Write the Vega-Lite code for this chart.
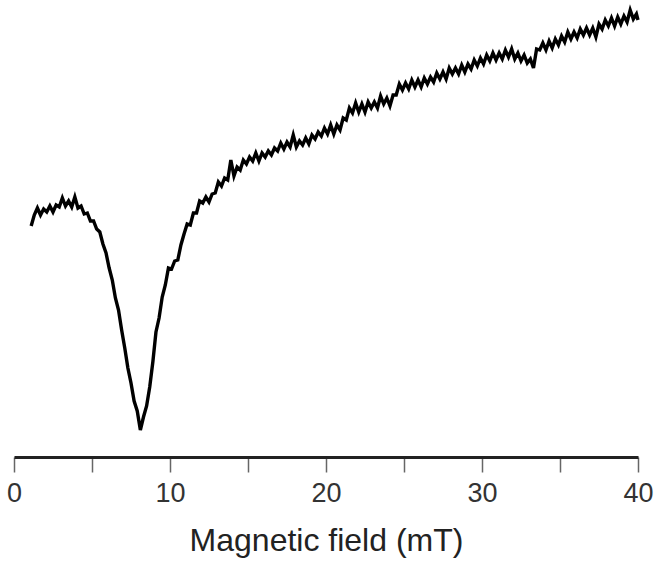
{
  "$schema": "https://vega.github.io/schema/vega-lite/v6.json",
  "width": 624,
  "height": 457,
  "autosize": "none",
  "padding": {"left": 14, "right": 21, "top": 0, "bottom": 111},
  "background": "white",
  "config": {"view": {"stroke": null}},
  "data": {"values": [
    {"field": 1.1, "signal": 231}, {"field": 1.3, "signal": 242}, {"field": 1.5, "signal": 249}, {"field": 1.7, "signal": 242},
    {"field": 1.9, "signal": 248}, {"field": 2.1, "signal": 245}, {"field": 2.3, "signal": 251}, {"field": 2.5, "signal": 245},
    {"field": 2.7, "signal": 252}, {"field": 2.9, "signal": 250}, {"field": 3.1, "signal": 259}, {"field": 3.3, "signal": 251},
    {"field": 3.5, "signal": 256}, {"field": 3.7, "signal": 250}, {"field": 3.9, "signal": 260}, {"field": 4.1, "signal": 249},
    {"field": 4.3, "signal": 251}, {"field": 4.5, "signal": 243}, {"field": 4.7, "signal": 244}, {"field": 4.9, "signal": 236},
    {"field": 5.1, "signal": 236}, {"field": 5.3, "signal": 228}, {"field": 5.5, "signal": 225}, {"field": 5.7, "signal": 213},
    {"field": 5.9, "signal": 204}, {"field": 6.1, "signal": 189}, {"field": 6.3, "signal": 177}, {"field": 6.5, "signal": 159},
    {"field": 6.7, "signal": 147}, {"field": 6.9, "signal": 127}, {"field": 7.1, "signal": 109}, {"field": 7.3, "signal": 89},
    {"field": 7.5, "signal": 74}, {"field": 7.7, "signal": 56}, {"field": 7.9, "signal": 46}, {"field": 8.1, "signal": 27},
    {"field": 8.3, "signal": 40}, {"field": 8.5, "signal": 51}, {"field": 8.7, "signal": 70}, {"field": 8.9, "signal": 95},
    {"field": 9.1, "signal": 125}, {"field": 9.3, "signal": 139}, {"field": 9.5, "signal": 160}, {"field": 9.7, "signal": 172},
    {"field": 9.9, "signal": 189}, {"field": 10.1, "signal": 188}, {"field": 10.3, "signal": 196}, {"field": 10.5, "signal": 197},
    {"field": 10.7, "signal": 212}, {"field": 10.9, "signal": 223}, {"field": 11.1, "signal": 233}, {"field": 11.3, "signal": 232},
    {"field": 11.5, "signal": 244}, {"field": 11.7, "signal": 244}, {"field": 11.9, "signal": 256}, {"field": 12.1, "signal": 254},
    {"field": 12.3, "signal": 260}, {"field": 12.5, "signal": 255}, {"field": 12.7, "signal": 263}, {"field": 12.9, "signal": 264},
    {"field": 13.1, "signal": 275}, {"field": 13.3, "signal": 271}, {"field": 13.5, "signal": 279}, {"field": 13.7, "signal": 277},
    {"field": 13.9, "signal": 297}, {"field": 14.1, "signal": 281}, {"field": 14.3, "signal": 290}, {"field": 14.5, "signal": 287},
    {"field": 14.7, "signal": 297}, {"field": 14.9, "signal": 293}, {"field": 15.1, "signal": 300}, {"field": 15.3, "signal": 296},
    {"field": 15.5, "signal": 304}, {"field": 15.7, "signal": 296}, {"field": 15.9, "signal": 304}, {"field": 16.1, "signal": 300},
    {"field": 16.3, "signal": 306}, {"field": 16.5, "signal": 302}, {"field": 16.7, "signal": 309}, {"field": 16.9, "signal": 306},
    {"field": 17.1, "signal": 314}, {"field": 17.3, "signal": 308}, {"field": 17.5, "signal": 315}, {"field": 17.7, "signal": 310},
    {"field": 17.9, "signal": 322}, {"field": 18.1, "signal": 310}, {"field": 18.3, "signal": 316}, {"field": 18.5, "signal": 312},
    {"field": 18.7, "signal": 319}, {"field": 18.9, "signal": 313}, {"field": 19.1, "signal": 322}, {"field": 19.3, "signal": 318},
    {"field": 19.5, "signal": 325}, {"field": 19.7, "signal": 321}, {"field": 19.9, "signal": 329}, {"field": 20.1, "signal": 323},
    {"field": 20.3, "signal": 332}, {"field": 20.5, "signal": 323}, {"field": 20.7, "signal": 332}, {"field": 20.9, "signal": 327},
    {"field": 21.1, "signal": 339}, {"field": 21.3, "signal": 337}, {"field": 21.5, "signal": 349}, {"field": 21.7, "signal": 344},
    {"field": 21.9, "signal": 354}, {"field": 22.1, "signal": 345}, {"field": 22.3, "signal": 353}, {"field": 22.5, "signal": 345},
    {"field": 22.7, "signal": 355}, {"field": 22.9, "signal": 349}, {"field": 23.1, "signal": 355}, {"field": 23.3, "signal": 349},
    {"field": 23.5, "signal": 361}, {"field": 23.7, "signal": 353}, {"field": 23.9, "signal": 359}, {"field": 24.1, "signal": 351},
    {"field": 24.3, "signal": 362}, {"field": 24.5, "signal": 362}, {"field": 24.7, "signal": 373}, {"field": 24.9, "signal": 367},
    {"field": 25.1, "signal": 374}, {"field": 25.3, "signal": 368}, {"field": 25.5, "signal": 377}, {"field": 25.7, "signal": 370},
    {"field": 25.9, "signal": 377}, {"field": 26.1, "signal": 370}, {"field": 26.3, "signal": 379}, {"field": 26.5, "signal": 373},
    {"field": 26.7, "signal": 380}, {"field": 26.9, "signal": 375}, {"field": 27.1, "signal": 384}, {"field": 27.3, "signal": 378},
    {"field": 27.5, "signal": 385}, {"field": 27.7, "signal": 378}, {"field": 27.9, "signal": 389}, {"field": 28.1, "signal": 383},
    {"field": 28.3, "signal": 389}, {"field": 28.5, "signal": 383}, {"field": 28.7, "signal": 392}, {"field": 28.9, "signal": 385},
    {"field": 29.1, "signal": 393}, {"field": 29.3, "signal": 388}, {"field": 29.5, "signal": 397}, {"field": 29.7, "signal": 391},
    {"field": 29.9, "signal": 399}, {"field": 30.1, "signal": 393}, {"field": 30.3, "signal": 402}, {"field": 30.5, "signal": 396},
    {"field": 30.7, "signal": 404}, {"field": 30.9, "signal": 397}, {"field": 31.1, "signal": 404}, {"field": 31.3, "signal": 398},
    {"field": 31.5, "signal": 407}, {"field": 31.7, "signal": 400}, {"field": 31.9, "signal": 408}, {"field": 32.1, "signal": 398},
    {"field": 32.3, "signal": 404}, {"field": 32.5, "signal": 396}, {"field": 32.7, "signal": 402}, {"field": 32.9, "signal": 394},
    {"field": 33.1, "signal": 398}, {"field": 33.3, "signal": 389}, {"field": 33.5, "signal": 408}, {"field": 33.7, "signal": 407},
    {"field": 33.9, "signal": 414}, {"field": 34.1, "signal": 407}, {"field": 34.3, "signal": 416}, {"field": 34.5, "signal": 409},
    {"field": 34.7, "signal": 418}, {"field": 34.9, "signal": 412}, {"field": 35.1, "signal": 421}, {"field": 35.3, "signal": 415},
    {"field": 35.5, "signal": 425}, {"field": 35.7, "signal": 418}, {"field": 35.9, "signal": 425}, {"field": 36.1, "signal": 419},
    {"field": 36.3, "signal": 428}, {"field": 36.5, "signal": 422}, {"field": 36.7, "signal": 429}, {"field": 36.9, "signal": 422},
    {"field": 37.1, "signal": 429}, {"field": 37.3, "signal": 420}, {"field": 37.5, "signal": 433}, {"field": 37.7, "signal": 428},
    {"field": 37.9, "signal": 437}, {"field": 38.1, "signal": 431}, {"field": 38.3, "signal": 439}, {"field": 38.5, "signal": 431},
    {"field": 38.7, "signal": 440}, {"field": 38.9, "signal": 433}, {"field": 39.1, "signal": 441}, {"field": 39.3, "signal": 435},
    {"field": 39.5, "signal": 447}, {"field": 39.7, "signal": 438}, {"field": 39.9, "signal": 443}, {"field": 40.0, "signal": 437}
  ]},
  "mark": {"type": "line", "color": "black", "strokeWidth": 3.4, "strokeJoin": "miter", "clip": false},
  "encoding": {
    "x": {
      "field": "field", "type": "quantitative",
      "scale": {"domain": [0, 40], "nice": false, "zero": false},
      "axis": {
        "title": "Magnetic field (mT)",
        "values": [0, 5, 10, 15, 20, 25, 30, 35, 40],
        "labelExpr": "datum.value % 10 === 0 ? datum.label : ''",
        "grid": false,
        "domainColor": "#222222", "domainWidth": 3,
        "tickColor": "#666666", "tickWidth": 1.5, "tickSize": 15,
        "labelFont": "Liberation Sans", "labelFontSize": 27, "labelColor": "#333333", "labelPadding": 8,
        "labelFlush": false, "labelOverlap": false,
        "titleFont": "Liberation Sans", "titleFontSize": 32, "titleFontWeight": "normal", "titleColor": "#222222", "titlePadding": 19
      }
    },
    "y": {
      "field": "signal", "type": "quantitative",
      "scale": {"domain": [0, 457], "nice": false, "zero": false},
      "axis": null
    }
  }
}
